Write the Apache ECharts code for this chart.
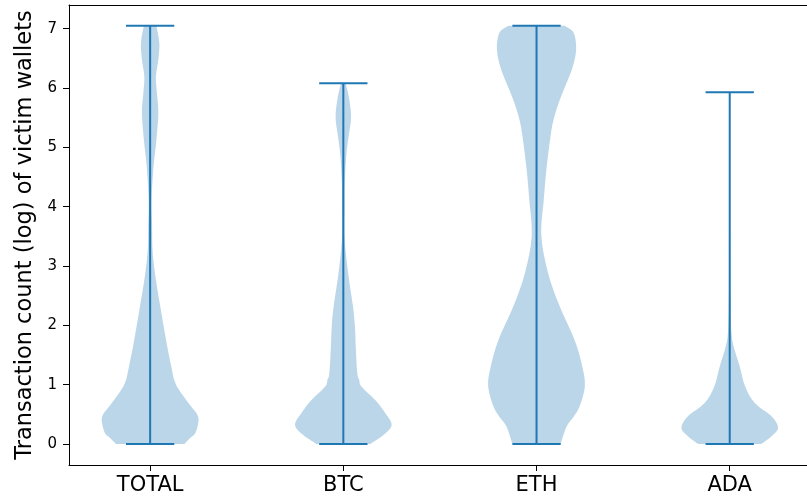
<!DOCTYPE html>
<html>
<head>
<meta charset="utf-8">
<script src="https://cdn.jsdelivr.net/npm/echarts@6/dist/echarts.min.js"></script>
<style>
html,body{margin:0;padding:0;background:#fff;}
#chart{width:807px;height:501px;}
</style>
</head>
<body>
<div id="chart"></div>
<script>
// Categories and positions
const categories = ['TOTAL', 'BTC', 'ETH', 'ADA'];
const positions = [1, 2, 3, 4];
const mins = [0, 0, 0, 0];
const maxs = [7.05, 6.08, 7.05, 5.93];
const yTicks = [0, 1, 2, 3, 4, 5, 6, 7];

// Violin density profiles (relative width, 1 = widest) sampled at y values
const totalY = [0, 0.1, 0.19, 0.38, 0.49, 0.63, 0.91, 1.08, 1.30, 1.75, 2.32, 2.88, 3.27, 3.7, 4.12, 4.67, 5.13, 5.58, 5.92, 6.19, 6.48, 6.76, 7.05];
const totalD = [0.71, 0.83, 0.94, 1.0, 0.98, 0.85, 0.60, 0.50, 0.44, 0.33, 0.21, 0.10, 0.05, 0.04, 0.03, 0.07, 0.13, 0.17, 0.14, 0.12, 0.17, 0.19, 0.13];

const btcY = [0.0, 0.15, 0.32, 0.52, 0.74, 0.97, 1.08, 1.19, 1.59, 1.98, 2.32, 2.88, 3.44, 4.0, 4.40, 4.84, 5.13, 5.49, 5.80, 6.08];
const btcD = [0.56, 0.83, 1.0, 0.87, 0.66, 0.375, 0.33, 0.29, 0.26, 0.24, 0.20, 0.10, 0.03, 0.027, 0.03, 0.06, 0.10, 0.16, 0.125, 0.05];

const ethY = [0, 0.29, 0.46, 0.63, 0.97, 1.30, 1.75, 2.32, 2.88, 3.5, 4.12, 4.67, 5.24, 5.52, 5.80, 6.08, 6.36, 6.65, 6.93, 7.05];
const ethD = [0.50, 0.62, 0.77, 0.89, 1.0, 0.95, 0.79, 0.48, 0.24, 0.10, 0.15, 0.21, 0.30, 0.37, 0.48, 0.62, 0.75, 0.82, 0.77, 0.58];

const adaY = [0, 0.12, 0.27, 0.46, 0.69, 0.97, 1.30, 1.64, 1.87, 2.3, 3.0, 4.0, 5.0, 5.93];
const adaD = [0.65, 0.85, 1.0, 0.875, 0.52, 0.32, 0.21, 0.083, 0.037, 0.02, 0.01, 0.006, 0.006, 0.006];

const profilesY = [totalY, btcY, ethY, adaY];
const profilesD = [totalD, btcD, ethD, adaD];

const halfWidth = 0.25;   // matplotlib default widths=0.5
const capHalf = 0.125;

// Smooth curve (Catmull-Rom -> cubic Bezier) through screen points
function curveTo(p) {
  let d = '';
  for (let i = 0; i < p.length - 1; i++) {
    const p0 = p[i - 1] || p[i], p1 = p[i], p2 = p[i + 1], p3 = p[i + 2] || p[i + 1];
    const c1 = [p1[0] + (p2[0] - p0[0]) / 6, p1[1] + (p2[1] - p0[1]) / 6];
    const c2 = [p2[0] - (p3[0] - p1[0]) / 6, p2[1] - (p3[1] - p1[1]) / 6];
    d += ' C' + c1[0].toFixed(2) + ' ' + c1[1].toFixed(2) + ' ' + c2[0].toFixed(2) + ' ' + c2[1].toFixed(2) + ' ' + p2[0].toFixed(2) + ' ' + p2[1].toFixed(2);
  }
  return d;
}

const chart = echarts.init(document.getElementById('chart'), null, {renderer: 'canvas'});

const option = {
  animation: false,
  backgroundColor: '#fff',
  grid: {left: 69, top: 5, right: 0, height: 460},
  xAxis: [{
    type: 'value', min: 0.58, max: 4.40, position: 'bottom',
    axisLine: {show: true, onZero: false, lineStyle: {color: '#000', width: 1}},
    axisTick: {show: true, length: 6, lineStyle: {color: '#000'}, customValues: positions},
    axisLabel: {
      customValues: positions, color: '#000', fontSize: 21, margin: 10,
      fontFamily: 'DejaVu Sans',
      formatter: v => categories[Math.round(v) - 1] || ''
    },
    splitLine: {show: false}
  }, {
    type: 'value', min: 0.58, max: 4.40, position: 'top',
    axisLine: {show: true, onZero: false, lineStyle: {color: '#000', width: 1}},
    axisTick: {show: false}, axisLabel: {show: false}, splitLine: {show: false}
  }],
  yAxis: {
    type: 'value', min: -0.354, max: 7.40,
    name: 'Transaction count (log) of victim wallets',
    nameLocation: 'middle', nameGap: 32,
    nameTextStyle: {fontSize: 22.5, color: '#000', fontFamily: 'DejaVu Sans'},
    axisLine: {show: true, onZero: false, lineStyle: {color: '#000', width: 1}},
    axisTick: {show: true, length: 6, lineStyle: {color: '#000'}, customValues: yTicks},
    axisLabel: {customValues: yTicks, color: '#000', fontSize: 15, margin: 12, fontFamily: 'DejaVu Sans'},
    splitLine: {show: false}
  },
  series: [{
    type: 'custom',
    xAxisIndex: 0, yAxisIndex: 0,
    data: positions.map((p, i) => [p, maxs[i]]),
    clip: false,
    renderItem: function (params, api) {
      const i = params.dataIndex;
      const pos = positions[i];
      const ys = profilesY[i], ds = profilesD[i];
      const left = [], right = [];
      for (let k = 0; k < ys.length; k++) left.push(api.coord([pos - ds[k] * halfWidth, ys[k]]));
      for (let k = ys.length - 1; k >= 0; k--) right.push(api.coord([pos + ds[k] * halfWidth, ys[k]]));
      const pathData = 'M' + left[0][0].toFixed(2) + ' ' + left[0][1].toFixed(2) + curveTo(left) +
        ' L' + right[0][0].toFixed(2) + ' ' + right[0][1].toFixed(2) + curveTo(right) + ' Z';
      const top = api.coord([pos, maxs[i]]);
      const bot = api.coord([pos, mins[i]]);
      const tl = api.coord([pos - capHalf, maxs[i]]);
      const tr = api.coord([pos + capHalf, maxs[i]]);
      const bl = api.coord([pos - capHalf, mins[i]]);
      const br = api.coord([pos + capHalf, mins[i]]);
      const ls = {stroke: '#1f77b4', lineWidth: 2};
      return {
        type: 'group',
        children: [
          {type: 'path', shape: {pathData: pathData}, style: {fill: 'rgba(31,119,180,0.3)'}},
          {type: 'line', shape: {x1: top[0], y1: top[1], x2: bot[0], y2: bot[1]}, style: ls},
          {type: 'line', shape: {x1: tl[0], y1: tl[1], x2: tr[0], y2: tr[1]}, style: ls},
          {type: 'line', shape: {x1: bl[0], y1: bl[1], x2: br[0], y2: br[1]}, style: ls}
        ]
      };
    }
  }]
};
chart.setOption(option);
</script>
</body>
</html>
